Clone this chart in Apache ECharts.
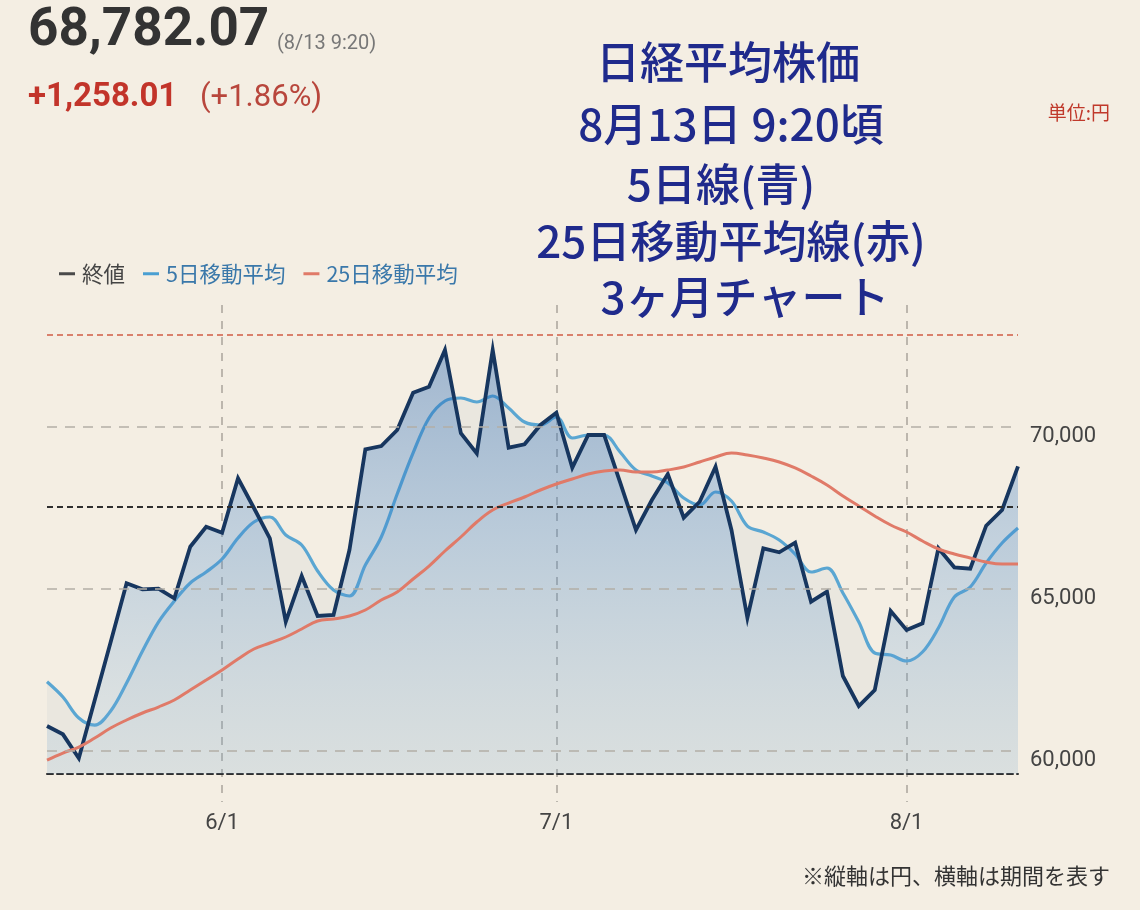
<!DOCTYPE html>
<html>
<head>
<meta charset="utf-8">
<script src="https://cdn.jsdelivr.net/npm/echarts@6/dist/echarts.min.js"></script>
<style>
html,body{margin:0;padding:0;background:#f4eee3;}
#chart{width:1140px;height:910px;}
</style>
</head>
<body>
<div id="chart"></div>
<script>
// Trading days (2025/5/16 - 8/13)
const dates = [
  '5/16','5/19','5/20','5/21','5/22','5/23','5/26','5/27','5/28','5/29','5/30',
  '6/2','6/3','6/4','6/5','6/6','6/9','6/10','6/11','6/12','6/13','6/16','6/17','6/18','6/19','6/20','6/23','6/24','6/25','6/26','6/27','6/30',
  '7/1','7/2','7/3','7/4','7/7','7/8','7/9','7/10','7/11','7/14','7/15','7/16','7/17','7/18','7/22','7/23','7/24','7/25','7/28','7/29','7/30','7/31',
  '8/1','8/4','8/5','8/6','8/7','8/8','8/12','8/13'
];
// 終値
const closeValues = [
  60772, 60515, 59775, 61574, 63364, 65176, 64991, 65009, 64713, 66306, 66923,
  66738, 68417, 67500, 66565, 63991, 65401, 64167, 64198, 66204, 69312, 69414, 69907, 71059, 71244, 72377, 69806, 69188, 72377, 69361, 69466, 70062,
  70441, 68744, 69753, 69753, 68302, 66821, 67747, 68549, 67201, 67694, 68775, 66821, 64114, 66256, 66133, 66429, 64608, 64917, 62315, 61389, 61883, 64321,
  63735, 63941, 66256, 65670, 65627, 66954, 67438, 68782.07
];
// 5日移動平均
const ma5Values = [
  62139, 61667, 61019, 60802, 61235, 62099, 63086, 63981, 64630, 65185, 65525,
  65926, 66574, 67068, 67222, 66667, 66358, 65556, 64969, 64784, 65741, 66605, 67932, 69198, 70278, 70802, 70895, 70772, 70957, 70586, 70154, 70062,
  70309, 69660, 69753, 69753, 69228, 68673, 68488, 68272, 67809, 67593, 67994, 67716, 66944, 66759, 66512, 66080, 65525, 65648, 64877, 63981, 63025, 62963,
  62778, 63056, 63796, 64753, 65062, 65802, 66420, 66883
];
// 25日移動平均
const ma25Values = [
  59722, 59938, 60123, 60401, 60710, 60957, 61173, 61358, 61574, 61883, 62191,
  62500, 62840, 63148, 63333, 63519, 63765, 64012, 64074, 64167, 64352, 64660, 64907, 65309, 65710, 66173, 66605, 67068, 67438, 67654, 67840, 68056,
  68241, 68395, 68549, 68642, 68673, 68611, 68611, 68673, 68765, 68920, 69074, 69198, 69136, 69043, 68920, 68735, 68488, 68210, 67870, 67562, 67253, 66975,
  66759, 66481, 66235, 66080, 65957, 65833, 65772, 65772
];
const yTicks = [60000, 65000, 70000];
const prevClose = 67524.06;
const highLine = 72850;
const monthStarts = ['6/2', '7/1', '8/1'];
const legendNames = ['終値', '5日移動平均', '25日移動平均'];

const FONT = 'Roboto, "Noto Sans CJK JP", sans-serif';
const JFONT = '"Noto Sans CJK JP", Roboto, sans-serif';

const isMonthStart = (idx) => monthStarts.indexOf(dates[idx]) >= 0;

const chart = echarts.init(document.getElementById('chart'), null, {renderer: 'canvas'});
chart.setOption({
  backgroundColor: '#f4eee3',
  animation: false,
  textStyle: {fontFamily: FONT},
  legend: {
    left: 54, top: 258, icon: 'rect', itemWidth: 16, itemHeight: 3, itemGap: 18,
    textStyle: {fontSize: 21.5, fontFamily: JFONT, padding: [0, 0, 0, 2]},
    data: [
      {name: legendNames[0], itemStyle: {color: '#4a4a4a'}, textStyle: {color: '#444'}},
      {name: legendNames[1], itemStyle: {color: '#4a9fd2'}, textStyle: {color: '#3a78aa'}},
      {name: legendNames[2], itemStyle: {color: '#e07a68'}, textStyle: {color: '#3a78aa'}}
    ]
  },
  grid: [
    {left: 47, right: 122, top: 329.8, bottom: 136.3},
    {left: 47, right: 122, top: 305, bottom: 108}
  ],
  xAxis: [
    {
      type: 'category', gridIndex: 0, data: dates, boundaryGap: false,
      axisLine: {show: true, onZero: false, lineStyle: {color: '#2e2e2e', width: 2, type: [6, 4]}},
      axisTick: {show: false}, axisLabel: {show: false}, splitLine: {show: false}
    },
    {
      type: 'category', gridIndex: 1, data: dates, boundaryGap: false,
      axisLine: {show: false}, axisTick: {show: false},
      axisLabel: {
        show: true, interval: (idx) => isMonthStart(idx), margin: 10,
        fontSize: 22, color: '#444', fontFamily: FONT,
        formatter: (v) => v.split('/')[0] + '/1'
      },
      splitLine: {show: true, interval: (idx) => isMonthStart(idx), lineStyle: {color: '#a9a49c', width: 1.5, type: [8, 8]}}
    }
  ],
  yAxis: [
    {type: 'value', gridIndex: 0, min: 59300, max: 73000, show: false, splitLine: {show: false}},
    {type: 'value', gridIndex: 1, show: false, splitLine: {show: false}}
  ],
  graphic: [
    {type: 'text', x: 28, y: 32, style: {text: '68,782.07', fontSize: 53, fontWeight: 'bold', fontFamily: FONT, fill: '#333', verticalAlign: 'middle'}},
    {type: 'text', x: 277, y: 44, style: {text: '(8/13 9:20)', fontSize: 20, fontFamily: FONT, fill: '#777', verticalAlign: 'middle'}},
    {type: 'text', x: 28, y: 98, style: {text: '+1,258.01', fontSize: 33, fontWeight: 'bold', fontFamily: FONT, fill: '#c2342a', verticalAlign: 'middle'}},
    {type: 'text', x: 200, y: 98, style: {text: '(+1.86%)', fontSize: 31, fontFamily: FONT, fill: '#b8463c', verticalAlign: 'middle'}},
    {type: 'text', x: 728, y: 62, style: {text: '日経平均株価', fontSize: 44, fontWeight: 500, fontFamily: JFONT, fill: '#1f2a8c', align: 'center', verticalAlign: 'middle'}},
    {type: 'text', x: 731, y: 124, style: {text: '8月13日 9:20頃', fontSize: 44, fontWeight: 500, fontFamily: JFONT, fill: '#1f2a8c', align: 'center', verticalAlign: 'middle'}},
    {type: 'text', x: 721, y: 184, style: {text: '5日線(青)', fontSize: 44, fontWeight: 500, fontFamily: JFONT, fill: '#1f2a8c', align: 'center', verticalAlign: 'middle'}},
    {type: 'text', x: 731, y: 241, style: {text: '25日移動平均線(赤)', fontSize: 44, fontWeight: 500, fontFamily: JFONT, fill: '#1f2a8c', align: 'center', verticalAlign: 'middle'}},
    {type: 'text', x: 745, y: 297, style: {text: '3ヶ月チャート', fontSize: 44, fontWeight: 500, fontFamily: JFONT, fill: '#1f2a8c', align: 'center', verticalAlign: 'middle'}},
    {type: 'text', x: 1110, y: 113, style: {text: '単位:円', fontSize: 19, fontFamily: JFONT, fill: '#c0392b', align: 'right', verticalAlign: 'middle'}},
    {type: 'text', x: 1110, y: 876, style: {text: '※縦軸は円、横軸は期間を表す', fontSize: 22, fontFamily: JFONT, fill: '#333', align: 'right', verticalAlign: 'middle'}}
  ],
  series: [
    {
      name: 'grid', type: 'line', xAxisIndex: 0, yAxisIndex: 0, data: [], z: 1, silent: true,
      markLine: {
        silent: true, symbol: 'none', animation: false,
        lineStyle: {color: '#b3aea6', width: 1.5, type: [10, 8]},
        label: {
          show: true, position: 'end', distance: 12, color: '#444', fontSize: 22, fontFamily: FONT,
          verticalAlign: 'top', lineHeight: 18,
          formatter: (p) => Number(p.value).toLocaleString('en-US')
        },
        data: yTicks.map(v => ({yAxis: v}))
      }
    },
    {
      name: legendNames[1], type: 'line', xAxisIndex: 0, yAxisIndex: 0, data: ma5Values, z: 2,
      smooth: 0.35, showSymbol: false, symbol: 'none',
      lineStyle: {color: '#5aa6d2', width: 3.2},
      itemStyle: {color: '#4a9fd2'},
      areaStyle: {color: 'rgba(110,135,165,0.1)', origin: 'start'}
    },
    {
      name: legendNames[0], type: 'line', xAxisIndex: 0, yAxisIndex: 0, data: closeValues, z: 3,
      showSymbol: false, symbol: 'none',
      lineStyle: {color: '#17365f', width: 3.8, join: 'miter'},
      itemStyle: {color: '#4a4a4a'},
      areaStyle: {
        origin: 'start',
        color: new echarts.graphic.LinearGradient(0, 0, 0, 1, [
          {offset: 0, color: 'rgba(30,95,175,0.56)'},
          {offset: 0.45, color: 'rgba(60,130,205,0.38)'},
          {offset: 1, color: 'rgba(120,175,220,0.2)'}
        ])
      }
    },
    {
      name: legendNames[2], type: 'line', xAxisIndex: 0, yAxisIndex: 0, data: ma25Values, z: 4,
      smooth: 0.4, showSymbol: false, symbol: 'none',
      lineStyle: {color: '#e07a68', width: 3},
      itemStyle: {color: '#e07a68'}
    },
    {
      name: 'ref', type: 'line', xAxisIndex: 0, yAxisIndex: 0, data: [], z: 5, silent: true,
      markLine: {
        silent: true, symbol: 'none', animation: false, label: {show: false},
        data: [
          {yAxis: prevClose, lineStyle: {color: '#2e2e2e', width: 2, type: [6, 4]}},
          {yAxis: highLine, lineStyle: {color: '#d9806c', width: 2, type: [6, 4]}}
        ]
      }
    }
  ]
});
</script>
</body>
</html>
